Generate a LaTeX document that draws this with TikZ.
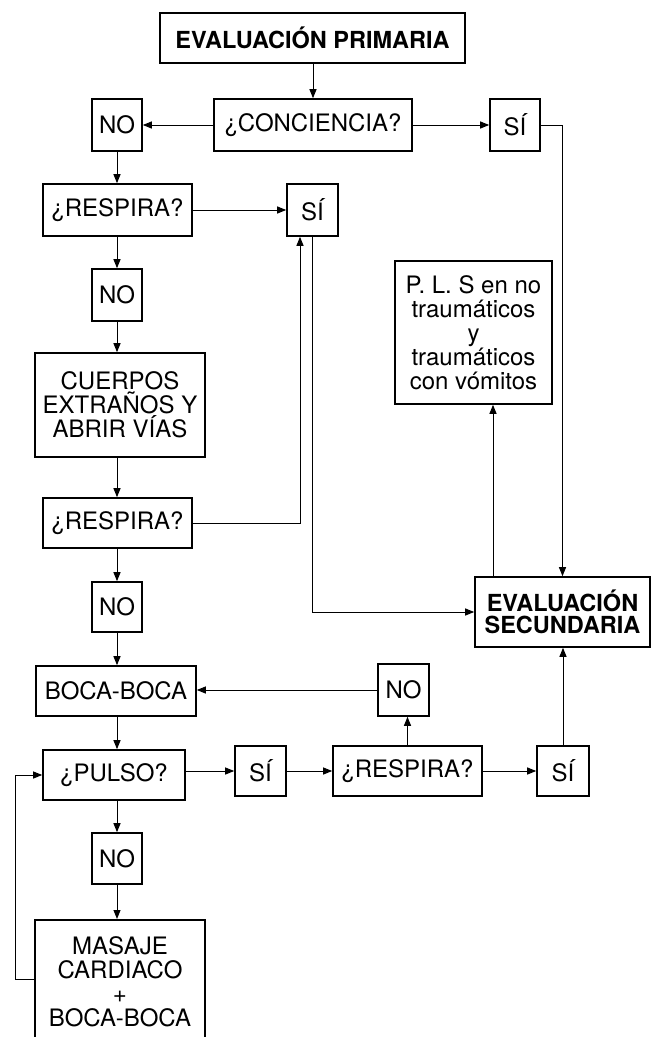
\documentclass[tikz,border=0pt]{standalone}
\usepackage{fontspec}
\setmainfont{TeX Gyre Heros}
\usetikzlibrary{arrows.meta}
\begin{document}
\begin{tikzpicture}[x=1pt,y=-1pt,
  box/.style={draw,line width=1.6pt,inner sep=0pt,align=center,font=\fontsize{24}{24}\selectfont},
  conn/.style={line width=1pt,-{Triangle[length=9pt,width=7pt]}},
  plain/.style={line width=1pt}]
\useasboundingbox (0,0) rectangle (653,1037);
\clip (0,0) rectangle (653,1037);
% nodes
\node[box,font=\bfseries\fontsize{23.5}{22}\selectfont,minimum width=305pt,minimum height=50pt] (ep) at (312.5,38) {EVALUACIÓN PRIMARIA};
\node[box,minimum width=198pt,minimum height=52pt] (conc) at (313,125) {¿CONCIENCIA?};
\node[box,minimum width=50pt,minimum height=52pt] (no1) at (117,125) {NO};
\node[box,minimum width=50pt,minimum height=52pt] (si1) at (515,125) {SÍ};
\node[box,minimum width=149pt,minimum height=52pt] (resp1) at (117.5,210) {¿RESPIRA?};
\node[box,minimum width=51pt,minimum height=52pt] (si2) at (312.5,210) {SÍ};
\node[box,minimum width=50pt,minimum height=52pt] (no2) at (117,295) {NO};
\node[box,minimum width=170pt,minimum height=104pt] (cuer) at (120,405) {CUERPOS\\EXTRAÑOS Y\\ABRIR VÍAS};
\node[box,minimum width=149pt,minimum height=50pt] (resp2) at (117.5,523) {¿RESPIRA?};
\node[box,minimum width=157pt,minimum height=143pt] (pls) at (473.5,332.5) {P. L. S en no\\traumáticos\\y\\traumáticos\\con vómitos};
\node[box,minimum width=50pt,minimum height=50pt] (no3) at (117,607) {NO};
\node[box,font=\bfseries\fontsize{23.5}{22}\selectfont,minimum width=175pt,minimum height=70pt] (es) at (562.5,612) {EVALUACIÓN\\SECUNDARIA};
\node[box,minimum width=160pt,minimum height=50pt] (boca) at (116,691) {BOCA-BOCA};
\node[box,minimum width=51pt,minimum height=52pt] (no4) at (403.5,690) {NO};
\node[box,minimum width=142pt,minimum height=50pt] (pulso) at (114,775) {¿PULSO?};
\node[box,minimum width=51pt,minimum height=50pt] (si3) at (260.5,771) {SÍ};
\node[box,minimum width=149pt,minimum height=50pt] (resp3) at (407.5,771) {¿RESPIRA?};
\node[box,minimum width=52pt,minimum height=50pt] (si4) at (563,771) {SÍ};
\node[box,minimum width=50pt,minimum height=51pt] (no5) at (117,858.5) {NO};
\node[box,anchor=north,minimum width=170pt,minimum height=124pt] (mas) at (120,919) {MASAJE\\CARDIACO\\+\\BOCA-BOCA};
\coordinate (plsx) at (493,0);
\coordinate (loopx) at (15,0);
% connectors
\draw[conn] (conc.north |- ep.south) -- (conc.north);
\draw[conn] (conc.west) -- (no1.east);
\draw[conn] (conc.east) -- (si1.west);
\draw[conn] (si1.east) -| (es.north);
\draw[conn] (no1.south) -- (resp1.north -| no1.south);
\draw[conn] (resp1.east) -- (si2.west |- resp1.east);
\draw[conn] (resp1.south -| no2.north) -- (no2.north);
\draw[conn] (no2.south) -- (cuer.north -| no2.south);
\draw[conn] (cuer.south -| no2.south) -- (resp2.north -| no2.south);
\draw[conn] (resp2.south -| no3.north) -- (no3.north);
\draw[conn] (no3.south) -- (boca.north -| no3.south);
\draw[conn] (boca.south -| no3.south) -- (pulso.north -| no3.south);
\draw[conn] (pulso.south -| no5.north) -- (no5.north);
\draw[conn] (no5.south) -- (mas.north -| no5.south);
\draw[conn] (resp2.east) -| ([xshift=-12.5pt]si2.south);
\draw[conn] (si2.south) |- (es.west);
\draw[conn] (es.north -| plsx) -- (pls.south -| plsx);
\draw[conn] (no4.west) -- (boca.east |- no4.west);
\draw[conn] (resp3.north) -- (no4.south -| resp3.north);
\draw[conn] (pulso.east |- si3.west) -- (si3.west);
\draw[conn] (si3.east) -- (resp3.west);
\draw[conn] (resp3.east) -- (si4.west);
\draw[conn] (si4.north) -- (es.south -| si4.north);
\draw[conn] ([yshift=-60pt]mas.north west) -| (loopx |- pulso.west) -- (pulso.west);
\end{tikzpicture}
\end{document}
